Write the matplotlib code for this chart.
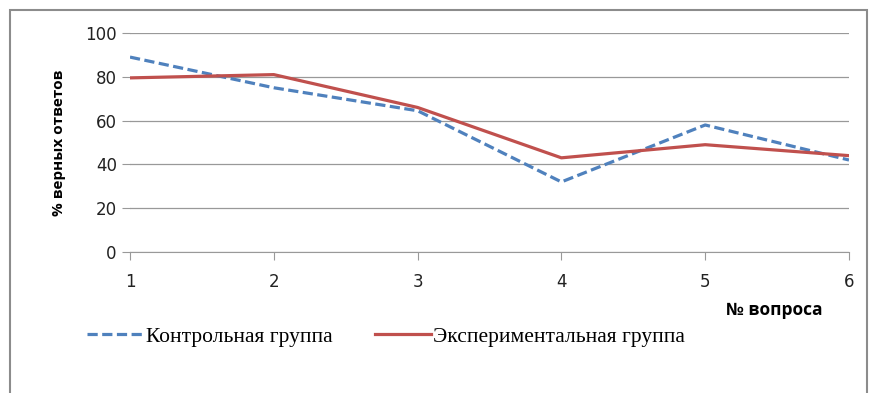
import matplotlib.pyplot as plt
from matplotlib.patches import Rectangle

# Данные: доля верных ответов по вопросам
vopros = [1, 2, 3, 4, 5, 6]
kontrol = [89, 75, 64.5, 32, 58, 42]
eksper = [79.5, 81, 66, 43, 49, 44]

fig = plt.figure(figsize=(8.7, 3.93), dpi=100)
ax = fig.add_axes([130 / 870, 1 - 252 / 393, 719 / 870, 219 / 393])

# рамка вокруг всей диаграммы
fig.patches.append(Rectangle((10 / 870, -0.2), 857 / 870, 1.2 - 10 / 393,
                             transform=fig.transFigure, fill=False,
                             edgecolor='#8c8c8c', linewidth=1.5))

ax.plot(vopros, kontrol, color='#4F81BD', linewidth=2.3, dashes=(3.2, 1.4),
        label='Контрольная группа')
ax.plot(vopros, eksper, color='#C0504D', linewidth=2.3,
        label='Экспериментальная группа')

ax.set_xlim(1, 6)
ax.set_ylim(0, 100)
ax.set_xticks(vopros)
ax.set_yticks(range(0, 101, 20))
ax.grid(axis='y', color='#999999', linewidth=0.9)
ax.set_axisbelow(True)

for s in ['top', 'right', 'left']:
    ax.spines[s].set_visible(False)
ax.spines['bottom'].set_color('#999999')
ax.tick_params(axis='both', colors='#999999', length=6, labelsize=12,
               labelcolor='#222222')
ax.tick_params(axis='x', pad=9)

ax.set_ylabel('% верных ответов', fontsize=11, fontweight='bold',
              fontfamily='Open Sans', labelpad=14)
fig.text(774 / 870, 1 - 310 / 393, '№ вопроса', fontsize=12.5,
         fontweight='bold', fontfamily='Open Sans', ha='center', va='center')

fig.legend(loc='center left', bbox_to_anchor=(68 / 870, 1 - 337 / 393), ncol=2,
           frameon=False, prop={'family': 'Liberation Serif', 'size': 15.5},
           handlelength=2.6, handletextpad=0.1, columnspacing=2.0)

plt.savefig('out.png', dpi=100)
